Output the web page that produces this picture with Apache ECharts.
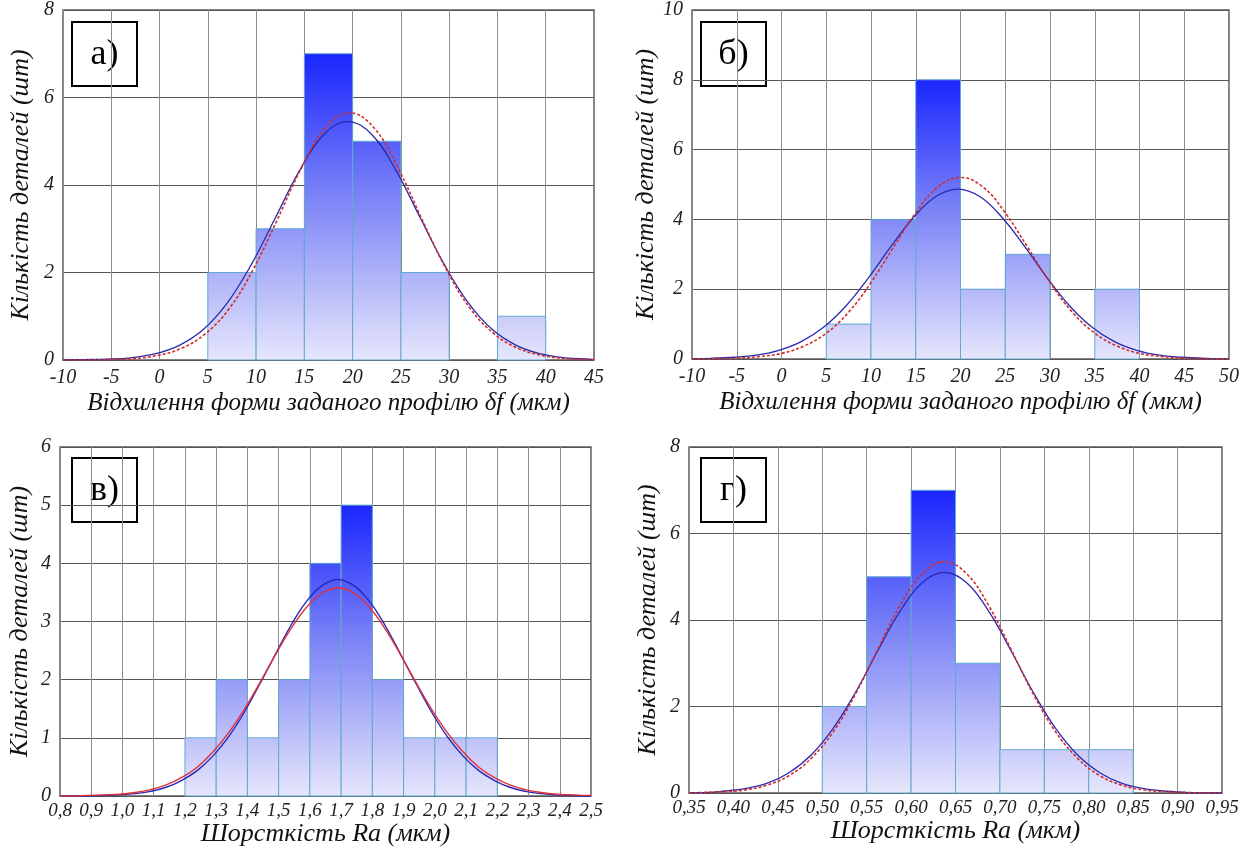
<!DOCTYPE html>
<html>
<head>
<meta charset="utf-8">
<script src="https://cdn.jsdelivr.net/npm/echarts@6/dist/echarts.min.js"></script>
<style>
html,body{margin:0;padding:0;background:#fff;}
#chart{width:1246px;height:850px;}
</style>
</head>
<body>
<div id="chart"></div>
<script>
// ---------- DATA ----------
// Panel а)
const aEdges  = [5, 10, 15, 20, 25, 30, 35, 40];
const aCounts = [2, 3, 7, 5, 2, 0, 1];
const aBlueX  = [-10, -8, -5.5, -3, -0.5, 2, 4.5, 7, 9.5, 12, 14.5, 17, 19.5, 22, 24.5, 27, 29.5, 32, 34.5, 37, 39.5, 42, 44.5, 45];
const aBlue   = [0.00, 0.01, 0.02, 0.05, 0.14, 0.33, 0.69, 1.30, 2.18, 3.25, 4.33, 5.15, 5.45, 5.15, 4.33, 3.25, 2.18, 1.30, 0.69, 0.33, 0.14, 0.05, 0.02, 0.01];
const aRedX   = [-10, -7.8, -5.3, -2.8, -0.3, 2.2, 4.7, 7.2, 9.7, 12.2, 14.7, 17.2, 19.7, 22.2, 24.7, 27.2, 29.7, 32.2, 34.7, 37.2, 39.7, 42.2, 44.7, 45];
const aRed    = [0.00, 0.00, 0.01, 0.03, 0.10, 0.26, 0.59, 1.17, 2.07, 3.21, 4.39, 5.31, 5.65, 5.31, 4.39, 3.21, 2.07, 1.17, 0.59, 0.26, 0.10, 0.03, 0.01, 0.01];
const aXTicks = ['-10', '-5', '0', '5', '10', '15', '20', '25', '30', '35', '40', '45'];
const aYTicks = ['0', '2', '4', '6', '8'];

// Panel б)
const bEdges  = [5, 10, 15, 20, 25, 30, 35, 40];
const bCounts = [1, 4, 8, 2, 3, 0, 2];
const bBlueX  = [-10, -7.8, -5.3, -2.8, -0.3, 2.2, 4.7, 7.2, 9.7, 12.2, 14.7, 17.2, 19.7, 22.2, 24.7, 27.2, 29.7, 32.2, 34.7, 37.2, 39.7, 42.2, 44.7, 47.2, 49.7, 50];
const bBlue   = [0.01, 0.02, 0.05, 0.11, 0.25, 0.50, 0.91, 1.52, 2.32, 3.21, 4.04, 4.65, 4.87, 4.65, 4.04, 3.21, 2.32, 1.52, 0.91, 0.50, 0.25, 0.11, 0.05, 0.02, 0.01, 0.01];
const bRedX   = [-10, -7.5, -5, -2.5, 0, 2.5, 5, 7.5, 10, 12.5, 15, 17.5, 20, 22.5, 25, 27.5, 30, 32.5, 35, 37.5, 40, 42.5, 45, 47.5, 50];
const bRed    = [0.00, 0.01, 0.02, 0.07, 0.16, 0.37, 0.74, 1.34, 2.19, 3.20, 4.19, 4.93, 5.20, 4.93, 4.19, 3.20, 2.19, 1.34, 0.74, 0.37, 0.16, 0.07, 0.02, 0.01, 0.00];
const bXTicks = ['-10', '-5', '0', '5', '10', '15', '20', '25', '30', '35', '40', '45', '50'];
const bYTicks = ['0', '2', '4', '6', '8', '10'];

// Panel в)
const cEdges  = [1.2, 1.3, 1.4, 1.5, 1.6, 1.7, 1.8, 1.9, 2.0, 2.1, 2.2];
const cCounts = [1, 2, 1, 2, 4, 5, 2, 1, 1, 1];
const cCurveX = [0.8, 0.84, 0.89, 0.94, 0.99, 1.04, 1.09, 1.14, 1.19, 1.24, 1.29, 1.34, 1.39, 1.44, 1.49, 1.54, 1.59, 1.64, 1.69, 1.74, 1.79, 1.84, 1.89, 1.94, 1.99, 2.04, 2.09, 2.14, 2.19, 2.24, 2.29, 2.34, 2.39, 2.44, 2.49, 2.5];
const cBlue   = [0.00, 0.00, 0.00, 0.01, 0.02, 0.04, 0.08, 0.15, 0.27, 0.44, 0.69, 1.02, 1.44, 1.93, 2.44, 2.94, 3.35, 3.62, 3.72, 3.62, 3.35, 2.94, 2.44, 1.93, 1.44, 1.02, 0.69, 0.44, 0.27, 0.15, 0.08, 0.04, 0.02, 0.01, 0.00, 0.00];
const cRed    = [0.00, 0.00, 0.01, 0.02, 0.03, 0.06, 0.11, 0.19, 0.32, 0.50, 0.76, 1.09, 1.49, 1.95, 2.43, 2.88, 3.25, 3.49, 3.58, 3.49, 3.25, 2.88, 2.43, 1.95, 1.49, 1.09, 0.76, 0.50, 0.32, 0.19, 0.11, 0.06, 0.03, 0.02, 0.01, 0.01];
const cXTicks = ['0,8', '0,9', '1,0', '1,1', '1,2', '1,3', '1,4', '1,5', '1,6', '1,7', '1,8', '1,9', '2,0', '2,1', '2,2', '2,3', '2,4', '2,5'];
const cYTicks = ['0', '1', '2', '3', '4', '5', '6'];

// Panel г)
const dEdges  = [0.50, 0.55, 0.60, 0.65, 0.70, 0.75, 0.80, 0.85];
const dCounts = [2, 5, 7, 3, 1, 1, 1];
const dCurveX = [0.35, 0.3625, 0.3875, 0.4125, 0.4375, 0.4625, 0.4875, 0.5125, 0.5375, 0.5625, 0.5875, 0.6125, 0.6375, 0.6625, 0.6875, 0.7125, 0.7375, 0.7625, 0.7875, 0.8125, 0.8375, 0.8625, 0.8875, 0.9125, 0.9375, 0.95];
const dBlue   = [0.01, 0.01, 0.04, 0.10, 0.22, 0.47, 0.88, 1.50, 2.33, 3.29, 4.20, 4.86, 5.10, 4.86, 4.20, 3.29, 2.33, 1.50, 0.88, 0.47, 0.22, 0.10, 0.04, 0.01, 0.00, 0.00];
const dRed    = [0.00, 0.01, 0.03, 0.07, 0.18, 0.40, 0.80, 1.42, 2.29, 3.32, 4.33, 5.07, 5.35, 5.07, 4.33, 3.32, 2.29, 1.42, 0.80, 0.40, 0.18, 0.07, 0.03, 0.01, 0.00, 0.00];
const dXTicks = ['0,35', '0,40', '0,45', '0,50', '0,55', '0,60', '0,65', '0,70', '0,75', '0,80', '0,85', '0,90', '0,95'];
const dYTicks = ['0', '2', '4', '6', '8'];

const panelLetters = ['а)', 'б)', 'в)', 'г)'];
const yTitle  = 'Кількість деталей (шт)';
const xTitleTop = 'Відхилення форми заданого профілю δf (мкм)';
const xTitleBottom = 'Шорсткість Ra (мкм)';

// ---------- CHART ----------
const chart = echarts.init(document.getElementById('chart'), null, {renderer: 'canvas'});
const FONT = 'Liberation Serif';

function binsData(edges, counts) {
  return counts.map((c, i) => [edges[i], edges[i + 1], c]);
}
function pairs(xs, ys) { return xs.map((x, i) => [x, ys[i]]); }

function histSeries(idx, edges, counts) {
  const maxC = Math.max.apply(null, counts);
  return {
    type: 'custom',
    xAxisIndex: idx, yAxisIndex: idx,
    encode: {x: [0, 1], y: 2},
    data: binsData(edges, counts),
    renderItem: function (params, api) {
      const x0 = api.value(0), x1 = api.value(1), v = api.value(2);
      if (!v) return null;
      const p0 = api.coord([x0, v]);
      const p1 = api.coord([x1, 0]);
      const top = api.coord([x0, maxC])[1];
      const grad = new echarts.graphic.LinearGradient(0, top, 0, p1[1], [
        {offset: 0, color: '#1a26ff'},
        {offset: 0.45, color: '#7880f6'},
        {offset: 1, color: '#e6e6fb'}
      ], true);
      return {
        type: 'rect',
        shape: {x: p0[0], y: p0[1], width: p1[0] - p0[0], height: p1[1] - p0[1]},
        style: {fill: grad, stroke: '#62a9cf', lineWidth: 1}
      };
    },
    z: 2
  };
}
function curve(idx, xs, ys, color, dashed, width) {
  return {
    type: 'line', xAxisIndex: idx, yAxisIndex: idx,
    data: pairs(xs, ys), smooth: 0.4, showSymbol: false, symbol: 'none',
    lineStyle: {color: color, width: width, type: dashed ? [3, 2] : 'solid'},
    z: 3, silent: true
  };
}

const grids = [
  {left: 63, top: 10, width: 531, height: 350},
  {left: 692, top: 10, width: 537, height: 349},
  {left: 60, top: 447, width: 531, height: 349},
  {left: 689, top: 447, width: 533, height: 346}
];

const xSpecs = [
  {min: -10, max: 45, interval: 5, ticks: aXTicks, name: xTitleTop, size: 20, margin: 8, gap: 31},
  {min: -10, max: 50, interval: 5, ticks: bXTicks, name: xTitleTop, size: 20, margin: 8, gap: 31},
  {min: 0.8, max: 2.5, interval: 0.1, ticks: cXTicks, name: xTitleBottom, size: 19, margin: 5, gap: 23},
  {min: 0.35, max: 0.95, interval: 0.05, ticks: dXTicks, name: xTitleBottom, size: 19, margin: 5, gap: 25}
];
const ySpecs = [
  {min: 0, max: 8, interval: 2, ticks: aYTicks, gap: 29},
  {min: 0, max: 10, interval: 2, ticks: bYTicks, gap: 31},
  {min: 0, max: 6, interval: 1, ticks: cYTicks, gap: 27},
  {min: 0, max: 8, interval: 2, ticks: dYTicks, gap: 28}
];

const option = {
  backgroundColor: '#ffffff',
  animation: false,
  grid: grids.map(g => Object.assign({show: true, borderColor: '#5a5a5a', borderWidth: 1.5, backgroundColor: '#ffffff'}, g)),
  xAxis: xSpecs.map((s, i) => ({
    type: 'value', gridIndex: i, min: s.min, max: s.max, interval: s.interval,
    axisLine: {show: false}, axisTick: {show: false},
    splitLine: {show: true, lineStyle: {color: '#8c8c8c', width: 1}},
    axisLabel: {
      margin: s.margin, color: '#222', fontFamily: FONT, fontStyle: 'italic', fontSize: s.size,
      showMinLabel: true, showMaxLabel: true,
      formatter: (v, k) => s.ticks[k]
    },
    name: s.name, nameLocation: 'middle', nameGap: s.gap,
    nameTextStyle: {fontFamily: FONT, fontStyle: 'italic', fontSize: i < 2 ? 25 : 26, color: '#111'}
  })),
  yAxis: ySpecs.map((s, i) => ({
    type: 'value', gridIndex: i, min: s.min, max: s.max, interval: s.interval,
    axisLine: {show: false}, axisTick: {show: false},
    splitLine: {show: true, lineStyle: {color: '#555', width: 1}},
    axisLabel: {
      margin: 9, color: '#222', fontFamily: FONT, fontStyle: 'italic', fontSize: 20,
      formatter: (v, k) => s.ticks[k]
    },
    name: yTitle, nameLocation: 'middle', nameGap: s.gap,
    nameTextStyle: {fontFamily: FONT, fontStyle: 'italic', fontSize: 26, color: '#111'}
  })),
  series: [
    histSeries(0, aEdges, aCounts),
    curve(0, aBlueX, aBlue, '#2a2aa8', false, 1.3),
    curve(0, aRedX, aRed, '#d42a2a', true, 1.6),
    histSeries(1, bEdges, bCounts),
    curve(1, bBlueX, bBlue, '#2a2ab0', false, 1.3),
    curve(1, bRedX, bRed, '#d42a2a', true, 1.6),
    histSeries(2, cEdges, cCounts),
    curve(2, cCurveX, cBlue, '#2626b8', false, 1.4),
    curve(2, cCurveX, cRed, '#e0303a', false, 1.4),
    histSeries(3, dEdges, dCounts),
    curve(3, dCurveX, dBlue, '#2a2ab0', false, 1.3),
    curve(3, dCurveX, dRed, '#d42a2a', true, 1.6)
  ],
  graphic: [
    {x: 72, y: 22}, {x: 701, y: 22}, {x: 72, y: 458}, {x: 701, y: 458}
  ].map((p, i) => ({
    type: 'group', x: p.x, y: p.y, z: 100,
    children: [
      {type: 'rect', shape: {x: 0, y: 0, width: 65, height: 64},
       style: {fill: '#ffffff', stroke: '#000000', lineWidth: 2}},
      {type: 'text', x: 32.5, y: 33,
       style: {text: panelLetters[i], fontFamily: FONT, fontSize: 36, fill: '#000',
               align: 'center', verticalAlign: 'middle'}}
    ]
  }))
};
chart.setOption(option);
</script>
</body>
</html>
